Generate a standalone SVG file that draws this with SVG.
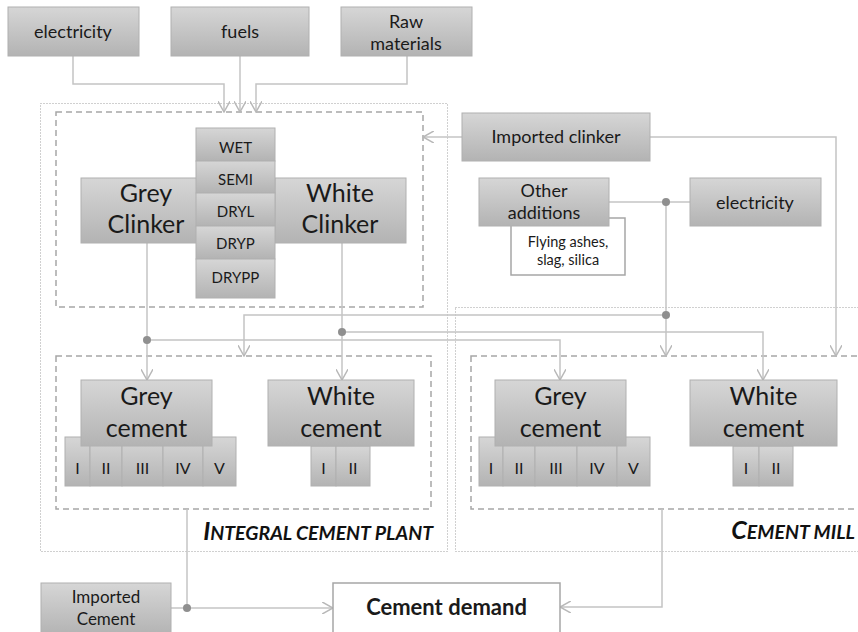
<svg xmlns="http://www.w3.org/2000/svg" width="858" height="632" viewBox="0 0 858 632">
<defs>
<linearGradient id="g" x1="0" y1="0" x2="0" y2="1">
<stop offset="0" stop-color="#d6d6d6"/>
<stop offset="1" stop-color="#b3b3b3"/>
</linearGradient>
<marker id="arr" markerUnits="userSpaceOnUse" markerWidth="12" markerHeight="12" refX="9" refY="5" orient="auto" viewBox="0 0 10 10">
<path d="M0,0 L9,5 L0,10" fill="none" stroke="#b8b8b8" stroke-width="1.2"/>
</marker>
</defs>
<style>
.box{fill:url(#g);stroke:#b0b0b0;stroke-width:1}
.wbox{fill:#ffffff;stroke:#a6a6a6;stroke-width:1.5}
.t{font-family:Lato,"Liberation Sans",sans-serif;fill:#1a1a1a;text-anchor:middle}
.c{fill:none;stroke:#c4c4c4;stroke-width:1.5}
.ca{fill:none;stroke:#c4c4c4;stroke-width:1.5;marker-end:url(#arr)}
.dot{fill:#8f8f8f}
.dash{fill:none;stroke:#a6a6a6;stroke-width:1.5;stroke-dasharray:6,4}
.dotb{fill:none;stroke:#a0a0a0;stroke-width:1;stroke-dasharray:1,2}
.lbl{font-family:Lato,"Liberation Sans",sans-serif;font-weight:bold;font-style:italic;fill:#111;text-anchor:end}
</style>

<g id="containers">
<rect class="dotb" x="40.5" y="103.5" width="407" height="448"/>
<rect class="dotb" x="455.5" y="307.5" width="420" height="244"/>
<rect class="dash" x="56" y="112" width="367" height="195"/>
<rect class="dash" x="56" y="356" width="375" height="153"/>
<rect class="dash" x="471" y="356" width="400" height="153"/>
<text class="lbl" x="433" y="540"><tspan font-size="25">I</tspan><tspan font-size="19.5">NTEGRAL CEMENT PLANT</tspan></text>
<text class="lbl" x="855" y="539"><tspan font-size="25">C</tspan><tspan font-size="19.5">EMENT MILL</tspan></text>
</g>

<g id="connectors">
<polyline class="ca" points="73,56 73,84 224,84 224,112"/>
<polyline class="ca" points="240,56 240,112"/>
<polyline class="ca" points="407,56 407,84 256,84 256,112"/>
<polyline class="ca" points="462,137 423,137"/>
<polyline class="ca" points="650,137 836,137 836,356"/>
<polyline class="c" points="609,202 690,202"/>
<polyline class="ca" points="666,202 666,356"/>
<polyline class="ca" points="666,315 244,315 244,356"/>
<polyline class="ca" points="147,243 147,380"/>
<polyline class="ca" points="147,340 560,340 560,380"/>
<polyline class="ca" points="342,243 342,380"/>
<polyline class="ca" points="342,332 763,332 763,380"/>
<polyline class="c" points="187,509 187,608"/>
<polyline class="ca" points="171,608 333,608"/>
<polyline class="ca" points="662,509 662,607 560,607"/>
<circle class="dot" cx="666" cy="202" r="4"/>
<circle class="dot" cx="666" cy="315" r="4"/>
<circle class="dot" cx="147" cy="340" r="4"/>
<circle class="dot" cx="342" cy="332" r="4"/>
<circle class="dot" cx="187" cy="608" r="4"/>
</g>

<g id="electricity-top">
<rect class="box" x="8" y="7" width="131" height="49"/>
<text class="t" x="73" y="38" font-size="18">electricity</text>
</g>
<g id="fuels">
<rect class="box" x="171" y="7" width="138" height="49"/>
<text class="t" x="240" y="38" font-size="18">fuels</text>
</g>
<g id="raw-materials">
<rect class="box" x="341" y="7" width="131" height="49"/>
<text class="t" x="406" y="28" font-size="18">Raw</text>
<text class="t" x="406" y="50" font-size="18">materials</text>
</g>

<g id="grey-clinker">
<rect class="box" x="81" y="178" width="131" height="65"/>
<text class="t" x="146" y="202" font-size="25">Grey</text>
<text class="t" x="146" y="233" font-size="25">Clinker</text>
</g>
<g id="white-clinker">
<rect class="box" x="275" y="178" width="131" height="65"/>
<text class="t" x="340" y="202" font-size="25">White</text>
<text class="t" x="340" y="233" font-size="25">Clinker</text>
</g>
<g id="kiln-methods">
<rect class="box" x="196" y="128" width="79" height="33"/>
<rect class="box" x="196" y="161" width="79" height="32"/>
<rect class="box" x="196" y="193" width="79" height="33"/>
<rect class="box" x="196" y="226" width="79" height="33"/>
<rect class="box" x="196" y="259" width="79" height="39"/>
<text class="t" x="235.5" y="153" font-size="15">WET</text>
<text class="t" x="235.5" y="185" font-size="15">SEMI</text>
<text class="t" x="235.5" y="217" font-size="15">DRYL</text>
<text class="t" x="235.5" y="249" font-size="15">DRYP</text>
<text class="t" x="235.5" y="283" font-size="15">DRYPP</text>
</g>

<g id="imported-clinker">
<rect class="box" x="462" y="113" width="188" height="48"/>
<text class="t" x="556" y="143" font-size="18">Imported clinker</text>
</g>
<g id="flying-ashes">
<rect class="wbox" x="511" y="218" width="114" height="57"/>
<text class="t" x="568" y="247" font-size="14.5">Flying ashes,</text>
<text class="t" x="568" y="265" font-size="14.5">slag, silica</text>
</g>
<g id="other-additions">
<rect class="box" x="479" y="178" width="130" height="48"/>
<text class="t" x="544" y="197" font-size="18">Other</text>
<text class="t" x="544" y="219" font-size="18">additions</text>
</g>
<g id="electricity-mill">
<rect class="box" x="690" y="178" width="131" height="48"/>
<text class="t" x="755" y="209" font-size="18">electricity</text>
</g>

<g id="grey-cement-plant">
<rect class="box" x="65" y="437" width="25" height="49"/>
<rect class="box" x="90" y="437" width="32" height="49"/>
<rect class="box" x="122" y="437" width="41" height="49"/>
<rect class="box" x="163" y="437" width="40" height="49"/>
<rect class="box" x="203" y="437" width="33" height="49"/>
<rect class="box" x="81" y="380" width="131" height="66"/>
<text class="t" x="146.5" y="405" font-size="25">Grey</text>
<text class="t" x="146.5" y="437" font-size="25">cement</text>
<text class="t" x="77.5" y="474" font-size="16">I</text>
<text class="t" x="106" y="474" font-size="16">II</text>
<text class="t" x="142.5" y="474" font-size="16">III</text>
<text class="t" x="183" y="474" font-size="16">IV</text>
<text class="t" x="219.5" y="474" font-size="16">V</text>
</g>
<g id="white-cement-plant">
<rect class="box" x="311" y="446" width="25" height="40"/>
<rect class="box" x="336" y="446" width="34" height="40"/>
<rect class="box" x="268" y="380" width="146" height="66"/>
<text class="t" x="341" y="405" font-size="25">White</text>
<text class="t" x="341" y="437" font-size="25">cement</text>
<text class="t" x="323.5" y="474" font-size="16">I</text>
<text class="t" x="353" y="474" font-size="16">II</text>
</g>

<g id="grey-cement-mill">
<rect class="box" x="479" y="437" width="24" height="49"/>
<rect class="box" x="503" y="437" width="32" height="49"/>
<rect class="box" x="535" y="437" width="42" height="49"/>
<rect class="box" x="577" y="437" width="40" height="49"/>
<rect class="box" x="617" y="437" width="33" height="49"/>
<rect class="box" x="495" y="380" width="131" height="66"/>
<text class="t" x="560.5" y="405" font-size="25">Grey</text>
<text class="t" x="560.5" y="437" font-size="25">cement</text>
<text class="t" x="491" y="474" font-size="16">I</text>
<text class="t" x="519" y="474" font-size="16">II</text>
<text class="t" x="556" y="474" font-size="16">III</text>
<text class="t" x="597" y="474" font-size="16">IV</text>
<text class="t" x="633.5" y="474" font-size="16">V</text>
</g>
<g id="white-cement-mill">
<rect class="box" x="733" y="446" width="26" height="40"/>
<rect class="box" x="759" y="446" width="34" height="40"/>
<rect class="box" x="690" y="380" width="147" height="66"/>
<text class="t" x="763.5" y="405" font-size="25">White</text>
<text class="t" x="763.5" y="437" font-size="25">cement</text>
<text class="t" x="746" y="474" font-size="16">I</text>
<text class="t" x="776" y="474" font-size="16">II</text>
</g>

<g id="imported-cement">
<rect class="box" x="41" y="583" width="130" height="52"/>
<text class="t" x="106" y="603" font-size="17">Imported</text>
<text class="t" x="106" y="625" font-size="17">Cement</text>
</g>
<g id="cement-demand">
<rect class="wbox" x="333" y="583" width="227" height="52"/>
<text class="t" x="446.5" y="615" font-size="22" font-weight="bold">Cement demand</text>
</g>
</svg>
